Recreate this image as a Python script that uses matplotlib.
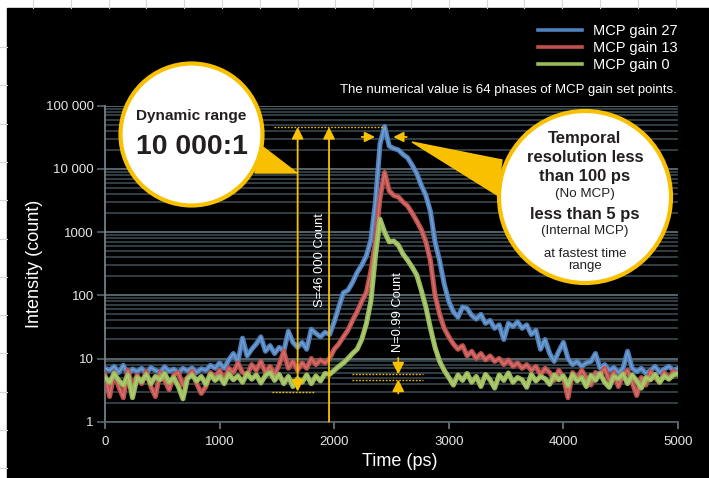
import numpy as np
import matplotlib.pyplot as plt
from matplotlib.patches import Circle, Polygon, Rectangle
from matplotlib.lines import Line2D
from matplotlib.ticker import LogLocator, NullFormatter

plt.rcParams['font.family'] = ['Liberation Sans', 'DejaVu Sans']

W, H = 709, 478

# time axis of the streak camera profile, one sample every 40 ps
time_ps = np.arange(0, 5001, 40)

gain27 = [7, 6.5, 7.5, 6, 7.8, 5.5, 6.8, 6.2, 7, 5.8,
          7.2, 6.5, 6, 7.4, 6.3, 6.8, 5.9, 7, 6.4, 7.1,
          6, 6.9, 6.5, 7.8, 7, 8.5, 7, 9.5, 12, 9,
          21, 11, 14, 17, 22, 13, 16, 12, 15, 13,
          27, 18, 15, 18, 14, 29, 25, 22, 26, 24,
          38, 65, 110, 120, 160, 230, 300, 420, 750, 3000,
          25000, 47000, 23000, 21000, 20000, 17000, 15000, 11500, 8500, 5500,
          3800, 2100, 700, 350, 150, 80, 55, 45, 65, 62,
          48, 42, 50, 36, 40, 30, 34, 20, 36, 32,
          38, 30, 34, 24, 28, 14, 20, 12, 9, 13,
          18, 10, 8, 9, 7.5, 8.5, 9, 12, 7, 8,
          6.5, 7.2, 6, 7, 13, 7, 6.2, 7, 5.8, 6.5,
          7.5, 6, 6.8, 7.5, 6.5, 7]

gain13 = [5.5, 2.5, 6, 3.6, 2.4, 6.5, 3.4, 5.5, 4, 6.2,
          3.6, 2.5, 6, 4.5, 3.2, 5.5, 6, 3.8, 5, 6.3,
          4, 2.8, 3.6, 6, 5, 6.5, 4.5, 7, 6, 8.5,
          6, 5.5, 8, 6.5, 9, 6, 7.5, 5.5, 8, 13,
          7, 9, 6.5, 8.5, 7, 10, 8, 9.5, 8.5, 10,
          14, 17, 22, 28, 40, 55, 80, 110, 240, 700,
          3500, 8800, 4500, 3800, 3600, 3000, 2600, 2000, 1500, 1100,
          700, 350, 100, 50, 30, 22, 17, 14, 16, 11,
          13, 10, 12, 9.5, 11, 9, 10, 8, 9.5, 7.5,
          8.5, 7, 8, 6.5, 7.5, 5.5, 7, 6, 4.5, 6.5,
          5, 2.4, 6, 4.8, 6.5, 5, 3.8, 6, 5.5, 7,
          4.5, 6, 3.6, 5.5, 6.5, 4.2, 2.6, 5, 3.8, 6.2,
          5, 4.2, 6, 4.8, 6.3, 5.5]

gain0 = [5, 4.2, 5.8, 4.5, 3.8, 5.5, 2.4, 5, 4.3, 5.6,
         4, 5.2, 4.6, 5.8, 4.2, 5, 3.6, 2.3, 4.8, 5.5,
         4.4, 5.2, 3.9, 5.6, 4.5, 5.2, 4, 5.7, 4.6, 5.3,
         4.2, 5.8, 4.7, 5.5, 4.1, 5.4, 6, 4.5, 5.6, 4,
         5.2, 3.6, 4.8, 4.2, 5.5, 4, 5.3, 4.4, 5.8, 5.6,
         6.5, 7.5, 8.5, 10, 12, 14, 20, 35, 80, 420,
         1600, 1000, 700, 720, 620, 450, 360, 280, 210, 120,
         65, 30, 15, 9, 6.5, 5, 3.8, 5.5, 4.5, 5.8,
         4.2, 5.2, 3.6, 5.6, 4.6, 3.4, 5.5, 4.5, 5.9, 4.2,
         5, 4.6, 3.5, 5.6, 4.4, 5.2, 4.8, 3.9, 5.5, 4.6,
         5.3, 3.7, 5.6, 4.4, 5, 3.6, 5.4, 4.5, 5.8, 4.2,
         3.5, 5.2, 4.8, 5.7, 4, 5.5, 4.4, 3.4, 5, 4.6,
         5.6, 4.2, 5.3, 4.7, 5.5, 5.8]

labels = ['MCP gain 27', 'MCP gain 13', 'MCP gain 0']
colors = ['#4f81bd', '#c0504d', '#9bbb59']
cores = ['#94b6de', '#de8e8b', '#c4da94']

x_ticks = [0, 1000, 2000, 3000, 4000, 5000]
y_ticks = [1, 10, 100, 1000, 10000, 100000]
y_tick_labels = ['1', '10', '100', '1000', '10 000', '100 000']

# annotation values (data units)
signal_count = 46000
signal_time = 2430
s_times = [1681, 1955]
floor_count = 3
noise_time = 2559
noise_levels = [5.6, 4.65]

yellow = '#f9c000'
grid_major = '#55656b'
grid_minor = '#303d42'
dark_text = '#231f20'

fig = plt.figure(figsize=(W / 100, H / 100), dpi=100)
fig.patch.set_facecolor('white')

# page background: spreadsheet cells around a black panel
bg = fig.add_axes([0, 0, 1, 1], zorder=0)
bg.set_xlim(0, W)
bg.set_ylim(H, 0)
bg.axis('off')
for gx in np.arange(33, W, 37.8):
    bg.plot([gx, gx], [0, 8], color='#d6d6d6', lw=0.8)
for gy in np.arange(47, H, 38.3):
    bg.plot([0, 7], [gy, gy], color='#d6d6d6', lw=0.8)
bg.add_patch(Rectangle((7, 8), W - 7, H - 8, color='black'))

ax = fig.add_axes([105 / W, (H - 421.7) / H, 573 / W, 316 / H], zorder=1)
ax.set_facecolor('black')

handles = []
for vals, c, core, lab in zip([gain27, gain13, gain0], colors, cores, labels):
    ax.plot(time_ps, vals, color=c, lw=3.6, solid_joinstyle='round', zorder=3)
    ax.plot(time_ps, vals, color=core, lw=1.1, alpha=0.55, zorder=3)
    handles.append(Line2D([], [], color=c, lw=2.6))

ax.set_yscale('log')
ax.set_xlim(0, 5000)
ax.set_ylim(1, 100000)
ax.set_xticks(x_ticks)
ax.set_yticks(y_ticks, y_tick_labels)
ax.yaxis.set_minor_locator(LogLocator(base=10, subs=np.arange(2, 10), numticks=20))
ax.yaxis.set_minor_formatter(NullFormatter())
ax.grid(axis='y', which='major', color=grid_major, lw=1.4)
ax.grid(axis='y', which='minor', color=grid_minor, lw=1.4)
ax.set_axisbelow(True)
ax.tick_params(axis='y', which='major', length=6, width=1.2, color=grid_major,
               labelcolor='#e6e6e6', labelsize=9.5, pad=2)
ax.tick_params(axis='y', which='minor', length=0)
ax.tick_params(axis='x', length=5, width=1.2, color='#6c7c82',
               labelcolor='#e6e6e6', labelsize=9.5, pad=5)
for side in ['top', 'right']:
    ax.spines[side].set_visible(False)
ax.spines['left'].set_color('#7a8a90')
ax.spines['left'].set_linewidth(1.2)
ax.spines['bottom'].set_color(grid_major)
ax.spines['bottom'].set_linewidth(1.2)

fig.text(34.5 / W, 1 - 264 / H, 'Intensity (count)', rotation=90, ha='center',
         va='center', color='white', fontsize=13)
fig.text(400 / W, 1 - 461 / H, 'Time (ps)', ha='center', va='center',
         color='white', fontsize=13)
fig.text(677 / W, 1 - 90 / H, 'The numerical value is 64 phases of MCP gain set points.',
         ha='right', va='center', color='white', fontsize=9.5)

ax.legend(handles, labels, loc='upper left', bbox_to_anchor=(538 / W, 1 - 24 / H),
          bbox_transform=fig.transFigure, frameon=False, fontsize=10.5,
          labelcolor='white', handlelength=3.0, handletextpad=0.8,
          labelspacing=0.2, borderpad=0, borderaxespad=0)

# dynamic range and noise markers
dot = (0, (1.2, 1.2))
head = '-|>,head_length=0.5,head_width=0.25'
both = '<|-|>,head_length=0.5,head_width=0.25'
ax.plot([1475, signal_time], [signal_count] * 2, color=yellow, lw=1, ls=dot, zorder=5)
ax.plot([1460, 1820], [floor_count] * 2, color=yellow, lw=1, ls=dot, zorder=5)
ax.annotate('', xy=(s_times[0], signal_count), xytext=(s_times[0], floor_count),
            arrowprops=dict(arrowstyle=both, color=yellow, lw=1.3, mutation_scale=14,
                            shrinkA=0, shrinkB=0), zorder=6)
ax.annotate('', xy=(s_times[1], signal_count), xytext=(s_times[1], 1),
            arrowprops=dict(arrowstyle=head, color=yellow, lw=1.3, mutation_scale=14,
                            shrinkA=0, shrinkB=0), zorder=6)
ax.annotate('', xy=(2356, 32000), xytext=(2240, 32000),
            arrowprops=dict(arrowstyle=head, color=yellow, lw=1.3, mutation_scale=12,
                            shrinkA=0, shrinkB=0), zorder=6)
ax.annotate('', xy=(2516, 32000), xytext=(2633, 32000),
            arrowprops=dict(arrowstyle=head, color=yellow, lw=1.3, mutation_scale=12,
                            shrinkA=0, shrinkB=0), zorder=6)
for lvl in noise_levels:
    ax.plot([2153, 2777], [lvl, lvl], color=yellow, lw=1, ls=dot, zorder=5)
ax.annotate('', xy=(noise_time, noise_levels[0]), xytext=(noise_time, 10.2),
            arrowprops=dict(arrowstyle=head, color=yellow, lw=1.3, mutation_scale=14,
                            shrinkA=0, shrinkB=0), zorder=6)
ax.annotate('', xy=(noise_time, noise_levels[1]), xytext=(noise_time, 2.8),
            arrowprops=dict(arrowstyle=head, color=yellow, lw=1.3, mutation_scale=14,
                            shrinkA=0, shrinkB=0), zorder=6)
ax.text(1880, 362, 'S=46 000 Count', rotation=90, ha='center', va='center',
        color='white', fontsize=9.3, zorder=6)
ax.text(noise_time, 54, 'N=0.99 Count', rotation=90, ha='center', va='center',
        color='white', fontsize=9.3, zorder=6)

# callout bubbles
ov = fig.add_axes([0, 0, 1, 1], zorder=10)
ov.set_xlim(0, W)
ov.set_ylim(H, 0)
ov.axis('off')

ov.add_patch(Polygon([(263, 147), (297, 173), (255, 173)], closed=True, color=yellow))
ov.add_patch(Circle((191.5, 134.5), 71, facecolor='white', edgecolor=yellow, lw=3))
ov.text(191.5, 116, 'Dynamic range', ha='center', va='center', fontsize=11.1,
        fontweight='bold', color=dark_text)
ov.text(191.5, 147, '10 000:1', ha='center', va='center', fontsize=20.5,
        fontweight='bold', color=dark_text)

ov.add_patch(Polygon([(502, 160), (412, 142), (497, 195)], closed=True, color=yellow))
ov.add_patch(Circle((585, 197), 86, facecolor='white', edgecolor=yellow, lw=3))
bubble_lines = [(138.3, 'Temporal', 12, 'bold'),
                (157.3, 'resolution less', 12, 'bold'),
                (176.7, 'than 100 ps', 12, 'bold'),
                (194.3, '(No MCP)', 9.6, 'normal'),
                (214.3, 'less than 5 ps', 12, 'bold'),
                (231, '(Internal MCP)', 9.6, 'normal'),
                (254, 'at fastest time', 9.5, 'normal'),
                (266.5, 'range', 9.5, 'normal')]
for yy, txt, size, weight in bubble_lines:
    ov.text(585, yy, txt, ha='center', va='center', fontsize=size,
            fontweight=weight, color=dark_text)

fig.savefig('out.png', dpi=100, facecolor=fig.get_facecolor())
